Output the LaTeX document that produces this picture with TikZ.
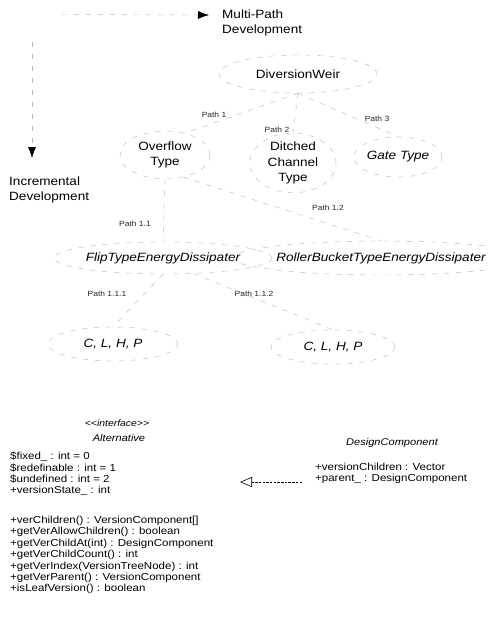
\documentclass[tikz,border=0pt]{standalone}
\usepackage{fontspec}
\setmainfont[FakeStretch=1.13]{Liberation Sans}
\usetikzlibrary{shapes.geometric,arrows.meta}

\begin{document}
\begin{tikzpicture}[x=1pt,y=-1pt,
  faint/.style={draw=gray!55, line width=0.45pt, dash pattern=on 5pt off 7pt},
  bubble/.style={ellipse, faint, inner sep=0pt, align=center,
    font=\fontsize{12}{15.5}\selectfont},
  axislabel/.style={align=left, anchor=west, inner sep=0pt,
    font=\fontsize{12}{15.5}\selectfont},
  axis/.style={draw=gray!55, line width=0.45pt, dash pattern=on 5pt off 7pt,
    -{Latex[length=11pt,width=8pt,color=black]}},
  pathlabel/.style={inner sep=0pt, text=black!85,
    font=\fontsize{7.5}{8}\selectfont},
  classtitle/.style={inner sep=0pt, font=\fontsize{9.8}{11}\selectfont\itshape},
  members/.style={inner sep=0pt, align=left, anchor=north west,
    font=\fontsize{10.2}{11.4}\selectfont},
  realize/.style={draw=black, line width=0.6pt, dash pattern=on 2.5pt off 1.2pt,
    -{Triangle[open, length=12pt, width=10pt]}}
]
\fill[white] (0,0) rectangle (490,625);
\useasboundingbox (0,0) rectangle (490,625);

% development axes
\node[axislabel] (multipath) at (222,23) {Multi-Path\\Development};
\node[axislabel] (incremental) at (9,190) {Incremental\\Development};
\coordinate (hstart) at (62,14.5);
\coordinate (htip) at (209,15);
\coordinate (vstart) at (32,42);
\coordinate (vtip) at (32,158);
\draw[axis] (hstart) -- (htip);
\draw[axis] (vstart) -- (vtip);

% version tree
\node[bubble, minimum width=158, minimum height=38] (weir) at (298,74) {DiversionWeir};
\node[bubble, minimum width=90, minimum height=48] (overflow) at (165,155) {Overflow\\Type};
\node[bubble, minimum width=86, minimum height=52] (ditched) at (293,163) {Ditched\\Channel\\Type};
\node[bubble, minimum width=86, minimum height=40] (gate) at (398,157) {\itshape Gate Type};
\node[bubble, minimum width=196, minimum height=32] (flip) at (163,258) {\itshape FlipTypeEnergyDissipater};
\node[bubble, minimum width=238, minimum height=34] (roller) at (381,258) {\itshape RollerBucketTypeEnergyDissipater};
\node[bubble, minimum width=130, minimum height=34] (clh1) at (113,344) {\itshape C, L, H, P};
\node[bubble, minimum width=124, minimum height=34] (clh2) at (333,347) {\itshape C, L, H, P};

\draw[faint] (weir.south) -- (overflow.48);
\draw[faint] (weir.south) -- (ditched.north);
\draw[faint] (weir.south) -- (gate.north);
\draw[faint] (overflow.south) -- (flip.north);
\draw[faint] (overflow.-50) -- (roller.north);
\draw[faint] (flip.south) -- (clh1.north);
\draw[faint] (flip.-27) -- (clh2.north);

\node[pathlabel] (p1) at (214,115) {Path 1};
\node[pathlabel] (p2) at (277,130) {Path 2};
\node[pathlabel] (p3) at (377,119) {Path 3};
\node[pathlabel] (p11) at (135,224) {Path 1.1};
\node[pathlabel] (p12) at (328,208) {Path 1.2};
\node[pathlabel] (p111) at (107,294) {Path 1.1.1};
\node[pathlabel] (p112) at (254,294) {Path 1.1.2};

% class view
\node[inner sep=0pt, font=\fontsize{9.2}{11}\selectfont\itshape] (altstereo) at (117,423)
  {<\kern0pt<interface>\kern0pt>};
\node[classtitle] (altname) at (119,438) {Alternative};
\node[members] (altattrs) at (10,452)
  {\$fixed\_ : int = 0\\
   \$redefinable : int = 1\\
   \$undefined : int = 2\\
   +versionState\_ : int};
\node[members] (altops) at (10,516)
  {+verChildren() : VersionComponent[]\\
   +getVerAllowChildren() : boolean\\
   +getVerChildAt(int) : DesignComponent\\
   +getVerChildCount() : int\\
   +getVerIndex(VersionTreeNode) : int\\
   +getVerParent() : VersionComponent\\
   +isLeafVersion() : boolean};

\node[classtitle] (dcname) at (392,443) {DesignComponent};
\node[members] (dcattrs) at (315,463)
  {+versionChildren : Vector\\
   +parent\_ : DesignComponent};

\coordinate (dcport) at (302,482);
\coordinate (altport) at (240,482);
\draw[realize] (dcport) -- (altport);
\end{tikzpicture}
\end{document}
